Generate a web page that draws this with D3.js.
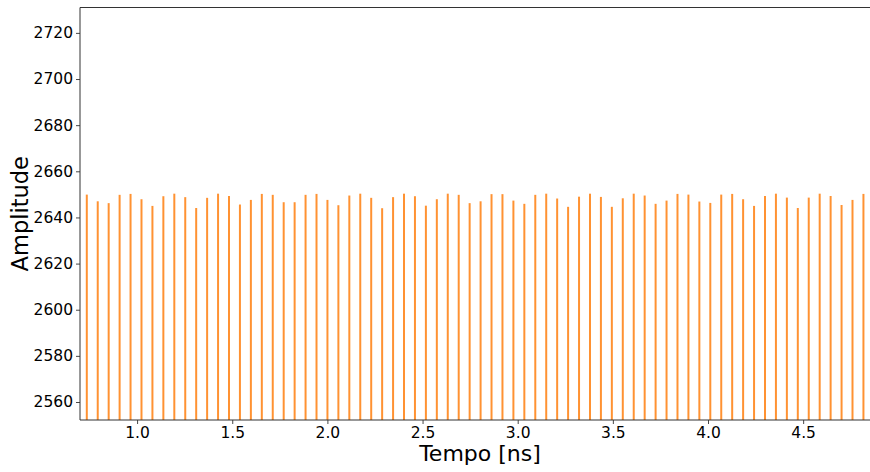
<!DOCTYPE html>
<html>
<head>
<meta charset="utf-8">
<script src="https://cdn.jsdelivr.net/npm/d3@7"></script>
<style>
  body { margin: 0; background: #fff; }
  svg { display: block; font-family: "DejaVu Sans", sans-serif; }
</style>
</head>
<body>
<svg id="chart" width="870" height="472"></svg>
<script>
// tempi dei picchi (ns): primo picco e periodo
const t0 = 0.7357;
const period = 0.05748;

// ampiezze dei picchi
const peaks = [
  2649.9, 2647.0, 2646.2, 2649.8, 2650.2, 2647.9, 2645.0, 2649.2, 2650.3, 2648.8,
  2644.1, 2648.5, 2650.3, 2649.3, 2645.6, 2647.6, 2650.2,
  2649.8, 2646.6, 2646.6, 2649.8, 2650.2, 2647.6, 2645.3, 2649.5, 2650.3, 2648.5,
  2644.0, 2648.8, 2650.3, 2649.2, 2645.1, 2647.9, 2650.3, 2649.8,
  2646.2, 2647.0, 2650.1, 2650.1, 2647.3, 2645.9, 2649.8, 2650.3, 2648.2, 2644.6,
  2649.0, 2650.3, 2648.9, 2644.6, 2648.3, 2650.3, 2649.5,
  2645.9, 2647.3, 2650.2, 2649.9, 2646.9, 2646.3, 2649.9, 2650.2, 2647.9, 2645.0,
  2649.3, 2650.3, 2648.6, 2644.1, 2648.6, 2650.3, 2649.3, 2645.4, 2647.6, 2650.2
];

const xTicks = [1.0, 1.5, 2.0, 2.5, 3.0, 3.5, 4.0, 4.5];
const yTicks = [2560, 2580, 2600, 2620, 2640, 2660, 2680, 2700, 2720];

const data = peaks.map((v, i) => ({ t: t0 + i * period, v: v }));

const margin = { top: 7.5, right: 1, bottom: 52, left: 80 };
const width = 870, height = 472;
const font = "DejaVu Sans, sans-serif";

const svg = d3.select("#chart");

const x = d3.scaleLinear()
  .domain([0.7, 4.846])
  .range([margin.left, width - margin.right]);

const y = d3.scaleLinear()
  .domain([2552.2, 2731])
  .range([height - margin.bottom, margin.top]);

// picchi
svg.append("g").selectAll("line.peak")
  .data(data)
  .enter().append("line")
  .attr("class", "peak")
  .attr("x1", d => x(d.t))
  .attr("x2", d => x(d.t))
  .attr("y1", y.range()[0])
  .attr("y2", d => y(d.v))
  .attr("stroke", "#ff7f0e")
  .attr("stroke-opacity", 0.85)
  .attr("stroke-width", 2);

// assi
const xAxis = svg.append("g")
  .attr("transform", `translate(0,${height - margin.bottom})`)
  .call(d3.axisBottom(x).tickValues(xTicks).tickFormat(d3.format(".1f")).tickSizeOuter(0).tickSize(4).tickPadding(3));

const yAxis = svg.append("g")
  .attr("transform", `translate(${margin.left},0)`)
  .call(d3.axisLeft(y).tickValues(yTicks).tickFormat(d3.format("d")).tickSizeOuter(0).tickSize(4).tickPadding(3));

[xAxis, yAxis].forEach(a => {
  a.select(".domain").remove();
  a.selectAll(".tick line").attr("stroke", "#333").attr("stroke-width", 0.9);
  a.selectAll(".tick text")
    .attr("fill", "#000")
    .style("font-size", "15.5px")
    .style("font-family", font);
});

// cornice: sinistra, sotto, sopra (la destra esce dall'immagine)
const x0 = margin.left, x1 = width, yb = height - margin.bottom, yt = margin.top;
svg.append("path")
  .attr("d", `M${x1},${yt}H${x0}V${yb}H${x1}`)
  .attr("fill", "none")
  .attr("stroke", "#333")
  .attr("stroke-width", 1);

// etichette
svg.append("text")
  .attr("x", 480)
  .attr("y", 461)
  .attr("text-anchor", "middle")
  .style("font-size", "22px")
  .style("font-family", font)
  .text("Tempo [ns]");

svg.append("text")
  .attr("transform", `translate(28,${(margin.top + height - margin.bottom) / 2}) rotate(-90)`)
  .attr("text-anchor", "middle")
  .style("font-size", "22.5px")
  .style("font-family", font)
  .text("Amplitude");
</script>
</body>
</html>
